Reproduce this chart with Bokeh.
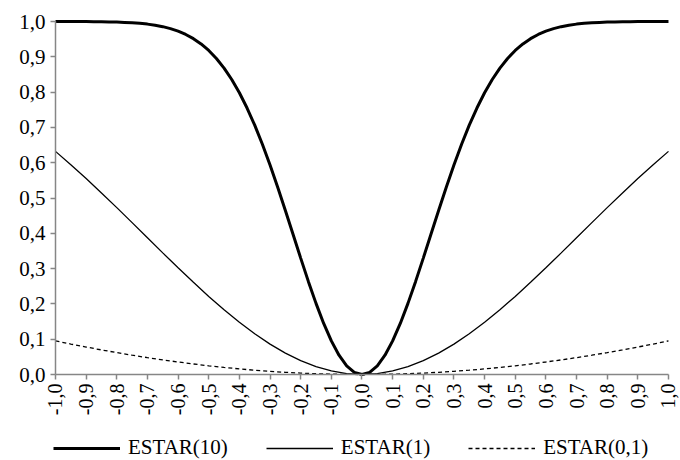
import math
from bokeh.plotting import figure
from bokeh.models import Range1d, FixedTicker, Legend, LegendItem
from bokeh.embed import file_html
from bokeh.resources import INLINE

x_fine = [-1.0, -0.975, -0.95, -0.925, -0.9, -0.875, -0.85, -0.825, -0.8, -0.775, -0.75,
          -0.725, -0.7, -0.675, -0.65, -0.625, -0.6, -0.575, -0.55, -0.525, -0.5,
          -0.475, -0.45, -0.425, -0.4, -0.375, -0.35, -0.325, -0.3, -0.275, -0.25,
          -0.225, -0.2, -0.175, -0.15, -0.125, -0.1, -0.075, -0.05, -0.025, 0.0,
          0.025, 0.05, 0.075, 0.1, 0.125, 0.15, 0.175, 0.2, 0.225, 0.25,
          0.275, 0.3, 0.325, 0.35, 0.375, 0.4, 0.425, 0.45, 0.475, 0.5,
          0.525, 0.55, 0.575, 0.6, 0.625, 0.65, 0.675, 0.7, 0.725, 0.75,
          0.775, 0.8, 0.825, 0.85, 0.875, 0.9, 0.925, 0.95, 0.975, 1.0]

estar10 = [1.0, 0.9999, 0.9999, 0.9998, 0.9997, 0.9995, 0.9993, 0.9989, 0.9983, 0.9975, 0.9964,
           0.9948, 0.9926, 0.9895, 0.9854, 0.9799, 0.9727, 0.9633, 0.9514, 0.9365, 0.9179,
           0.8953, 0.8681, 0.8357, 0.7981, 0.7549, 0.7063, 0.6522, 0.5934, 0.5306, 0.4647,
           0.3972, 0.3297, 0.2638, 0.2015, 0.1447, 0.0952, 0.0547, 0.0247, 0.0062, 0.0,
           0.0062, 0.0247, 0.0547, 0.0952, 0.1447, 0.2015, 0.2638, 0.3297, 0.3972, 0.4647,
           0.5306, 0.5934, 0.6522, 0.7063, 0.7549, 0.7981, 0.8357, 0.8681, 0.8953, 0.9179,
           0.9365, 0.9514, 0.9633, 0.9727, 0.9799, 0.9854, 0.9895, 0.9926, 0.9948, 0.9964,
           0.9975, 0.9983, 0.9989, 0.9993, 0.9995, 0.9997, 0.9998, 0.9999, 0.9999, 1.0]

x = [-1.0, -0.95, -0.9, -0.85, -0.8, -0.75, -0.7, -0.65, -0.6, -0.55, -0.5,
     -0.45, -0.4, -0.35, -0.3, -0.25, -0.2, -0.15, -0.1, -0.05, 0.0,
     0.05, 0.1, 0.15, 0.2, 0.25, 0.3, 0.35, 0.4, 0.45, 0.5,
     0.55, 0.6, 0.65, 0.7, 0.75, 0.8, 0.85, 0.9, 0.95, 1.0]

estar1 = [0.6321, 0.5943, 0.5551, 0.5143, 0.4727, 0.4302, 0.3874, 0.3445, 0.3023, 0.2611, 0.2212,
          0.1835, 0.1479, 0.1153, 0.0861, 0.0606, 0.0392, 0.0222, 0.0100, 0.0025, 0.0,
          0.0025, 0.0100, 0.0222, 0.0392, 0.0606, 0.0861, 0.1153, 0.1479, 0.1835, 0.2212,
          0.2611, 0.3023, 0.3445, 0.3874, 0.4302, 0.4727, 0.5143, 0.5551, 0.5943, 0.6321]

estar01 = [0.0952, 0.0863, 0.0778, 0.0697, 0.0620, 0.0547, 0.0478, 0.0414, 0.0354, 0.0298, 0.0247,
           0.0200, 0.0159, 0.0122, 0.0090, 0.0062, 0.0040, 0.0022, 0.0010, 0.0003, 0.0,
           0.0003, 0.0010, 0.0022, 0.0040, 0.0062, 0.0090, 0.0122, 0.0159, 0.0200, 0.0247,
           0.0298, 0.0354, 0.0414, 0.0478, 0.0547, 0.0620, 0.0697, 0.0778, 0.0863, 0.0952]

x_ticks = [-1.0, -0.9, -0.8, -0.7, -0.6, -0.5, -0.4, -0.3, -0.2, -0.1, 0.0,
           0.1, 0.2, 0.3, 0.4, 0.5, 0.6, 0.7, 0.8, 0.9, 1.0]
x_tick_labels = ["-1,0", "-0,9", "-0,8", "-0,7", "-0,6", "-0,5", "-0,4", "-0,3", "-0,2", "-0,1", "0,0",
                 "0,1", "0,2", "0,3", "0,4", "0,5", "0,6", "0,7", "0,8", "0,9", "1,0"]
y_ticks = [0.0, 0.1, 0.2, 0.3, 0.4, 0.5, 0.6, 0.7, 0.8, 0.9, 1.0]
y_tick_labels = ["0,0", "0,1", "0,2", "0,3", "0,4", "0,5", "0,6", "0,7", "0,8", "0,9", "1,0"]

series_names = ["ESTAR(10)", "ESTAR(1)", "ESTAR(0,1)"]

FONT = "Liberation Serif"
AXIS_COLOR = "#868686"
FS = "21px"

# frame fills the whole canvas; axes are pinned at x=-1 and y=0
p = figure(width=680, height=460, output_backend="svg", toolbar_location=None,
           x_range=Range1d(-1.1468, 1.0392), y_range=Range1d(-0.2436, 1.0595),
           min_border_top=0, min_border_right=0, min_border_left=10,
           min_border_bottom=0)
p.outline_line_color = None
p.xgrid.visible = False
p.ygrid.visible = False
p.background_fill_color = "white"
p.border_fill_color = "white"

r1 = p.line(x_fine, estar10, line_color="black", line_width=3)
r2 = p.line(x, estar1, line_color="black", line_width=1.3)
r3 = p.line(x, estar01, line_color="black", line_width=1.3, line_dash="4 3")

for ax in (p.xaxis[0], p.yaxis[0]):
    ax.axis_line_color = AXIS_COLOR
    ax.axis_line_width = 1.5
    ax.major_tick_line_color = AXIS_COLOR
    ax.major_tick_line_width = 1.5
    ax.minor_tick_line_color = None
    ax.major_tick_in = 0
    ax.major_tick_out = 5
    ax.major_label_text_font = FONT
    ax.major_label_text_font_size = FS
    ax.major_label_text_color = "black"

p.xaxis[0].fixed_location = 0.0
p.xaxis[0].ticker = FixedTicker(ticks=x_ticks)
p.xaxis[0].major_label_overrides = {t: l for t, l in zip(x_ticks, x_tick_labels)}
p.xaxis[0].major_label_orientation = math.pi / 2
p.xaxis[0].major_label_standoff = 4
p.xaxis[0].major_label_text_font_size = "20px"
p.xaxis[0].bounds = (-1.0, 1.0)

p.yaxis[0].fixed_location = -1.0
p.yaxis[0].ticker = FixedTicker(ticks=y_ticks)
p.yaxis[0].major_label_overrides = {t: l for t, l in zip(y_ticks, y_tick_labels)}
p.yaxis[0].major_label_standoff = 5
p.yaxis[0].bounds = (0.0, 1.0)

legend = Legend(items=[LegendItem(label=series_names[0], renderers=[r1]),
                       LegendItem(label=series_names[1], renderers=[r2]),
                       LegendItem(label=series_names[2], renderers=[r3])],
                orientation="horizontal", location=(43, 0),
                label_text_font=FONT, label_text_font_size=FS,
                label_text_color="black",
                glyph_width=67, glyph_height=16, label_standoff=8, spacing=38,
                padding=0, margin=0, border_line_color=None,
                background_fill_alpha=0)
p.add_layout(legend)

open("out.html", "w").write(file_html(p, INLINE))
